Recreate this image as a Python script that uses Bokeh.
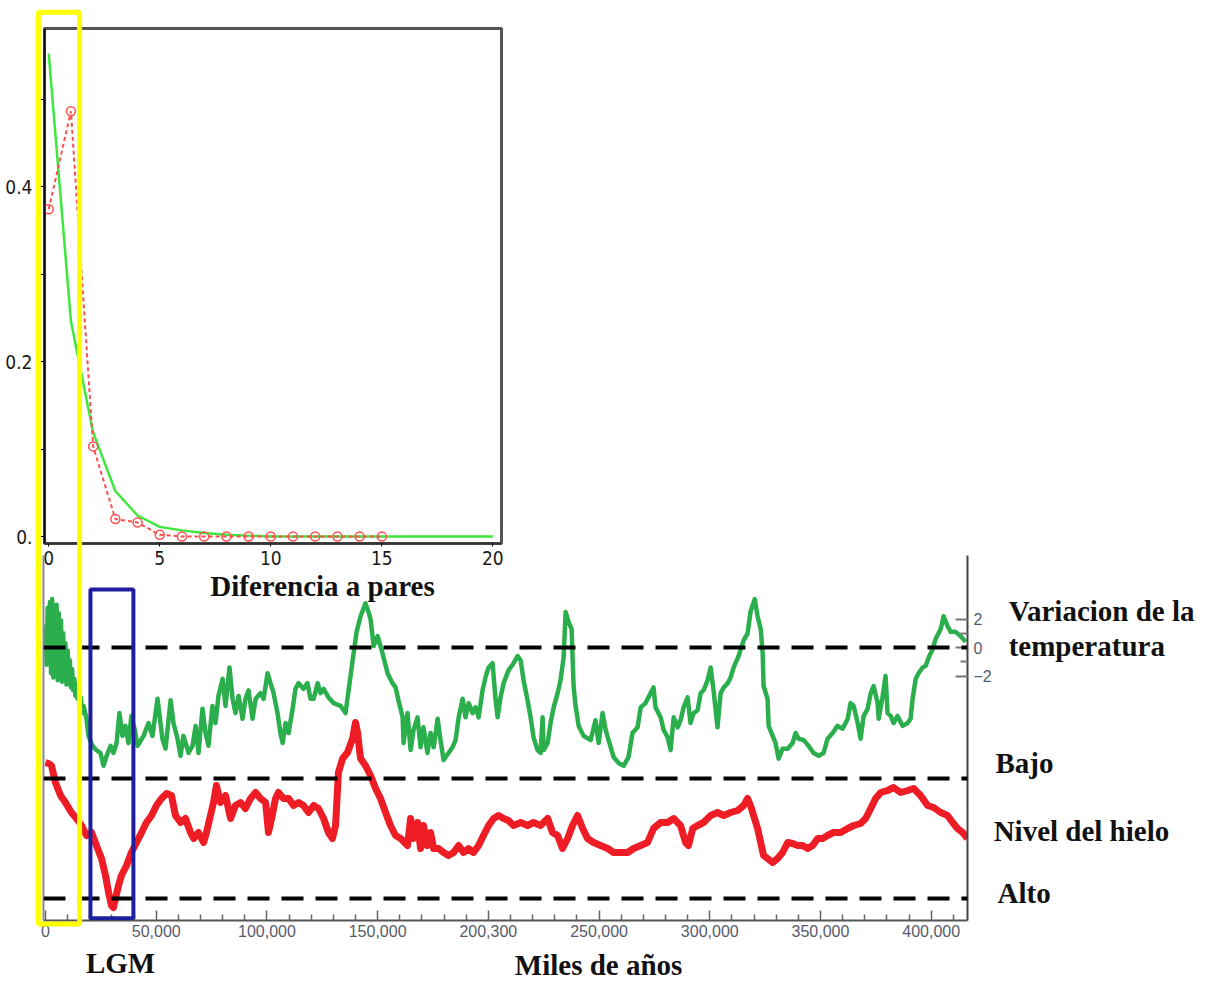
from bokeh.plotting import figure
from bokeh.models import (Range1d, LinearAxis, FixedTicker, NumeralTickFormatter,
                          Span, BoxAnnotation, Label)
from bokeh.embed import file_html
from bokeh.resources import INLINE

# ---------------------------------------------------------------------------
# Distribucion de diferencias a pares (mismatch distribution)
# ---------------------------------------------------------------------------
dif_obs_x = [0, 1, 2, 3, 4, 5, 6, 7, 8, 9, 10, 11, 12, 13, 14, 15]
dif_obs = [0.374, 0.486, 0.103, 0.020, 0.016, 0.002, 0.0, 0.0,
           0.0, 0.0, 0.0, 0.0, 0.0, 0.0, 0.0, 0.0]

dif_esp_x = [0, 1, 2, 3, 4, 5, 6, 7, 8, 9, 10,
             11, 12, 13, 14, 15, 16, 17, 18, 19, 20]
dif_esp = [0.552, 0.246, 0.119, 0.052, 0.024, 0.011, 0.007, 0.004, 0.002, 0.001, 0.0,
           0.0, 0.0, 0.0, 0.0, 0.0, 0.0, 0.0, 0.0, 0.0, 0.0]

dif_ticks = [0, 5, 10, 15, 20]
frec_ticks = [0.0, 0.2, 0.4]
frec_minor = [0.1, 0.3, 0.5]

# ---------------------------------------------------------------------------
# Variacion de la temperatura (grados) frente a anos antes del presente
# ---------------------------------------------------------------------------
temp_anos = [
    0, 500, 1000, 1500, 2000, 2500, 3000, 3500, 4000, 4500,
    5000, 5500, 6000, 6500, 7000, 7500, 8000, 8500, 9000, 9500,
    10000, 10500, 11000, 11500, 12000, 12500, 13000, 13500, 14000, 14500,
    15000, 15500, 16000, 16500,
    17200, 18500, 19400, 21200, 23000, 24800, 26200, 27600, 29400, 30700,
    32100, 33400, 34800, 36100, 37500, 38800, 40200, 41600,
    44300, 46500, 48300, 50600, 52800, 54200, 56500, 57800, 59600, 61000,
    62300, 64600, 66400, 67800, 69100, 70900, 72300, 73600, 75400, 76800,
    78100, 80000, 81300, 83100, 84500, 85800, 87200, 89000, 90300, 91700,
    93500, 94900, 97100, 98500, 100300, 101600, 103000, 104800, 106100, 107100,
    108400, 109800, 111600, 112900, 114300, 116500, 118300, 119700,
    121100, 122900, 124200, 125600, 127800, 130100, 133300, 135500, 136900, 138700,
    140500, 142300, 144500, 145900, 146800, 148200, 150000, 152200, 154500, 156700,
    158100, 159400, 161300, 161700, 163500, 164900, 166200, 168000, 169400, 170700,
    172500, 173900, 175300, 177100, 178400, 179800, 182000, 183800, 185200, 186600,
    188400, 189700, 191100, 192900, 194200, 195600, 197400, 198700, 200100, 201900,
    203300, 204200, 205500, 206900, 209100, 211400, 213200, 214600, 215900, 217700,
    219100, 220400, 222200, 223600, 224500, 225000, 226800, 228100, 229500, 231300,
    232600, 234000,
    234900, 236200, 237600, 238500, 239400, 240800, 243000,
    246200, 248400, 249800, 251600, 253000, 254300, 256600, 258800, 261100, 263300,
    265100, 267400, 268800, 271000, 273300, 274600, 275500, 277800, 279200, 281000,
    282300, 283700, 285500, 286800, 288200, 290000, 291300, 292700, 294500, 295900,
    297200, 299000, 300400, 301700, 303500, 304900, 306300, 308100, 309400, 310800,
    313000, 315300, 317100,
    318400, 320300, 321600, 323000,
    323900, 324300, 326100, 326600, 328400, 329700, 331100, 332900, 335200, 337400,
    338800, 340100, 342400, 344600, 346900, 349200, 351400, 353200, 355500, 357700,
    360000, 362300, 363600, 365000, 366800, 368100, 369500, 371300, 372700, 374000,
    375800, 376300, 378100, 379400, 380300, 381700, 383000, 384800, 387100, 389400,
    390700, 391600, 393000, 394300, 396100, 397500, 398900, 400700, 402000, 404300,
    405600, 407400, 408800, 411000, 413300, 415600,
]
temp_var = [
    1.6, -1.2, 2.8, -0.9, 3.2, -1.8, 3.4, -2.1, 2.9, -1.5,
    3.0, -2.3, 2.4, -2.0, 1.9, -2.4, 1.0, -2.2, 0.3, -2.6,
    -0.2, -2.5, -0.9, -2.8, -1.5, -3.0, -2.2, -3.4, -2.6, -3.6,
    -3.0, -4.2, -3.5, -4.6,
    -4.1, -5.0, -6.2, -6.9, -7.2, -7.4, -8.3, -7.6, -6.9, -7.4,
    -6.7, -4.6, -6.2, -5.5, -6.7, -4.8, -5.7, -6.9,
    -6.2, -5.3, -6.2, -3.6, -6.4, -7.1, -3.7, -5.3, -6.4, -7.6,
    -6.2, -7.4, -6.9, -5.5, -7.4, -4.3, -6.0, -6.9, -4.1, -5.3,
    -3.4, -2.2, -4.1, -1.4, -3.6, -4.6, -3.4, -5.0, -3.6, -3.0,
    -5.0, -3.6, -3.2, -3.6, -1.8, -2.5, -3.2, -4.6, -6.0, -6.7,
    -5.3, -6.0, -4.3, -2.9, -2.5, -2.9, -2.5, -3.6,
    -3.6, -2.5, -3.2, -2.9, -3.5, -3.9, -4.1, -4.6, -3.0, -0.9,
    1.1, 2.2, 3.1, 2.5, 2.0, 0.1, 0.8, -0.4, -1.8, -2.5,
    -2.8, -3.7, -4.9, -6.7, -4.6, -7.2, -5.8, -4.9, -7.0, -5.6,
    -7.4, -6.0, -7.0, -5.0, -6.5, -7.9, -7.4, -7.0, -6.5, -4.9,
    -3.6, -4.9, -3.9, -4.6, -4.2, -4.9, -3.0, -2.1, -1.4, -1.1,
    -3.7, -4.9, -3.5, -2.5, -1.6, -1.1, -0.6, -0.9, -2.3, -3.7,
    -4.9, -6.3, -7.2, -7.4, -4.9, -7.2, -6.7, -5.3, -4.2, -3.2,
    -2.3, -0.7,
    2.5, 1.8, 1.3, -2.7, -4.1, -5.5, -6.2,
    -6.5, -5.1, -6.7, -4.6, -5.8, -6.5, -7.7, -8.1, -8.3, -7.7,
    -6.0, -5.6, -4.2, -3.9, -3.2, -2.8, -4.2, -4.9, -5.8, -6.3,
    -7.2, -4.9, -5.6, -5.1, -4.2, -3.5, -5.3, -4.6, -4.4, -3.2,
    -3.0, -2.3, -1.4, -3.0, -5.6, -3.2, -2.8, -2.5, -2.1, -1.4,
    -0.6, 0.5, 1.0,
    2.5, 3.4, 2.2, 1.3,
    -0.4, -2.7, -3.6, -5.5, -6.2, -6.7, -7.8, -7.1, -7.1, -6.7,
    -6.0, -6.4, -6.5, -6.9, -7.4, -7.6, -7.4, -6.4, -6.0, -5.5,
    -5.7, -5.0, -3.9, -4.1, -5.3, -6.4, -4.8, -4.3, -3.2, -2.7,
    -3.9, -5.0, -3.4, -2.0, -4.6, -4.8, -5.3, -4.8, -5.5, -5.3,
    -5.0, -3.6, -2.2, -1.8, -1.4, -1.3, -0.7, -0.1, 0.6, 1.3,
    2.2, 1.5, 1.1, 1.1, 0.8, 0.4,
]

# ---------------------------------------------------------------------------
# Nivel del hielo (equivalente en metros; 0 = "Bajo", -120 = "Alto")
# ---------------------------------------------------------------------------
hielo_anos = [
    0, 1400, 2700, 4500, 6800, 9000, 11700, 14000, 16300, 18500,
    20800, 23000, 25300, 27100, 28500, 29800, 30700, 31600, 33000, 34300,
    36600, 38800, 41100, 43400, 45600, 47900, 50100, 52400, 54700, 56900,
    58700, 61000, 63200, 65500, 66900, 69100, 71400, 72700, 74500, 75900,
    77200, 79000, 81300, 83600, 85800, 88100, 90300, 92600, 94900, 97100,
    99400, 100700, 102100, 103900, 105200, 107500, 109800, 112000, 114300, 116500,
    118800, 121100, 123300, 125600, 127800, 129600, 131000, 132300, 134200, 136400,
    138700, 140000, 140900, 142300, 144500, 146800, 149100, 151300, 153600, 155800,
    158100, 160400, 163500, 164900, 166200, 168000, 169400, 170700, 172500, 173900,
    175300, 177500, 179800, 182000, 184300, 186600, 188800, 191100, 193300, 195600,
    197800, 200100, 202400, 204600, 206900, 209100, 211400, 214600, 217700, 220400,
    223600, 226800, 229000, 231300, 233500, 235800, 238000, 240300, 242600, 244800,
    247500, 250700, 253900, 256600, 259700, 262900, 265600, 268800, 271900, 274600,
    277800, 281000, 283700, 286800, 289100, 290400, 292300, 294500, 297200, 300400,
    303500, 306300, 309400, 312600, 315300, 317100, 318400, 319800, 321600, 323000,
    324300, 326100, 328400, 330600, 332900, 335200, 337400, 339700, 341900, 344200,
    346500, 348700, 351000, 353200, 355900, 359100, 362300, 365000, 368100, 370400,
    372700, 374900, 377200, 380300, 383000, 386200, 389400, 392100, 395200, 398400,
    401100, 404300, 407400, 409700, 411900, 414200, 416400,
]
hielo_nivel = [
    16, 15, 13, -4, -17, -24, -34, -40, -47, -57,
    -54, -67, -80, -97, -114, -127, -129, -120, -107, -97,
    -87, -74, -64, -54, -44, -37, -27, -20, -15, -17,
    -37, -44, -40, -54, -60, -54, -64, -54, -37, -24,
    -7, -24, -17, -40, -27, -24, -30, -20, -14, -20,
    -24, -54, -40, -20, -14, -20, -20, -27, -24, -27,
    -34, -27, -30, -40, -54, -60, -47, 6, 20, 26,
    40, 56, 46, 20, 13, 3, -10, -20, -34, -47,
    -57, -60, -67, -40, -60, -44, -70, -47, -67, -54,
    -70, -70, -74, -77, -74, -67, -74, -70, -74, -67,
    -57, -47, -40, -37, -40, -42, -47, -44, -47, -44,
    -47, -40, -54, -57, -70, -60, -47, -37, -50, -60,
    -64, -67, -70, -74, -74, -74, -70, -67, -64, -50,
    -44, -44, -40, -47, -64, -67, -50, -47, -44, -37,
    -34, -37, -34, -32, -27, -20, -27, -37, -50, -64,
    -77, -80, -84, -80, -74, -64, -65, -67, -67, -70,
    -67, -60, -60, -57, -54, -54, -50, -47, -45, -40,
    -30, -20, -14, -12, -9, -14, -12, -10, -17, -27,
    -29, -34, -37, -44, -50, -54, -60,
]
nivel_bajo = 0
nivel_alto = -120

anos_ticks = [0, 50000, 100000, 150000, 200000, 250000, 300000, 350000, 400000]
anos_minor = [10000, 20000, 30000, 40000, 60000, 70000, 80000, 90000,
              110000, 120000, 130000, 140000, 160000, 170000, 180000, 190000,
              210000, 220000, 230000, 240000, 260000, 270000, 280000, 290000,
              310000, 320000, 330000, 340000, 360000, 370000, 380000, 390000,
              410000]
temp_ticks = [-2, 0, 2]
temp_minor = [-1, 1]

# LGM window and the recent window (years before present)
lgm_inicio, lgm_fin = 20300, 39700
reciente_inicio, reciente_fin = -3200, 15400

assert len(temp_anos) == len(temp_var)
assert len(hielo_anos) == len(hielo_nivel)

SERIF = "Liberation Serif"
NARROW = "DejaVu Sans Condensed"
SANS = "Liberation Sans"
PAGE_W, PAGE_H = 1207, 981
PIN = {"position": "absolute", "left": "0px", "top": "0px"}

# ---------------------------------------------------------------------------
# Small plot: pairwise differences
# ---------------------------------------------------------------------------
IN_W, IN_H = 520, 620
IN_L, IN_R, IN_T, IN_B = 44, 19, 28, 77
in_x = (-0.19, 20.39)
in_y = (-0.008, 0.5806)

inset = figure(width=IN_W, height=IN_H,
               x_range=Range1d(*in_x), y_range=Range1d(*in_y),
               output_backend="svg", toolbar_location=None,
               min_border_left=IN_L, min_border_right=IN_R,
               min_border_top=IN_T, min_border_bottom=IN_B,
               styles=PIN)
inset.grid.visible = False
inset.outline_line_color = "#555555"
inset.outline_line_width = 3
inset.background_fill_color = "white"
inset.border_fill_color = None

inset.line(dif_esp_x, dif_esp, line_color="#3DE83D", line_width=2.5)
inset.line(dif_obs_x, dif_obs, line_color="#FF4F4F", line_width=2, line_dash="4 3")
inset.scatter(dif_obs_x, dif_obs, marker="circle", size=9, fill_color=None,
              line_color="#FF4F4F", line_width=1.5)

xa = inset.xaxis[0]
xa.ticker = FixedTicker(ticks=dif_ticks)
xa.major_label_text_font = NARROW
xa.major_label_text_font_size = "19px"
xa.major_label_text_color = "#1a1a1a"
xa.axis_line_color = "#333333"
xa.axis_line_width = 2
xa.major_tick_out = 3
xa.major_tick_in = 0
xa.minor_tick_line_color = None
xa.major_label_standoff = 4

ya = inset.yaxis[0]
ya.ticker = FixedTicker(ticks=frec_ticks, minor_ticks=frec_minor)
ya.major_label_overrides = {0: "0.", 0.2: "0.2", 0.4: "0.4"}
ya.major_label_text_font = NARROW
ya.major_label_text_font_size = "19px"
ya.major_label_text_color = "#1a1a1a"
ya.axis_line_color = "#111111"
ya.axis_line_width = 2
ya.major_tick_out = 4
ya.major_tick_in = 0
ya.minor_tick_out = 4
ya.minor_tick_in = 0
ya.major_label_standoff = 8

# ---------------------------------------------------------------------------
# Main plot: temperature and ice level through time
# ---------------------------------------------------------------------------
M_L, M_R, M_T, M_B = 43, 240, 555, 61
m_x = (-900, 416400)
m_y = (-19.16, 6.46)
m_h = (-142, 223)

main = figure(width=PAGE_W, height=PAGE_H,
              x_range=Range1d(*m_x), y_range=Range1d(*m_y),
              output_backend="svg", toolbar_location=None,
              y_axis_location="right",
              min_border_left=M_L, min_border_right=M_R,
              min_border_top=M_T, min_border_bottom=M_B,
              styles=PIN)
main.extra_y_ranges = {"hielo": Range1d(*m_h)}
main.grid.visible = False
main.outline_line_color = None
main.background_fill_color = None
main.border_fill_color = None

main.line(hielo_anos, hielo_nivel, y_range_name="hielo", line_color="#EE1C24",
          line_width=7, line_join="round")
main.line(temp_anos, temp_var, line_color="#2BAE4C", line_width=4.5, line_join="round")

for loc, rng in ((0, "default"), (nivel_bajo, "hielo"), (nivel_alto, "hielo")):
    main.add_layout(Span(location=loc, dimension="width", y_range_name=rng,
                         line_color="black", line_width=4, line_dash="22 12"))

main.add_layout(BoxAnnotation(left=lgm_inicio, right=lgm_fin, top=4.07, bottom=-19.0,
                              fill_alpha=0, line_color="#1E1E9E", line_alpha=1,
                              line_width=4))

bx = main.xaxis[0]
bx.ticker = FixedTicker(ticks=anos_ticks, minor_ticks=anos_minor)
bx.formatter = NumeralTickFormatter(format="0,0")
bx.major_label_overrides = {200000: "200,300"}
bx.major_label_text_font = SANS
bx.major_label_text_font_size = "16px"
bx.major_label_text_color = "#565a6a"
bx.axis_line_color = "#555555"
bx.axis_line_width = 2
bx.major_tick_in = 10
bx.major_tick_out = 0
bx.minor_tick_in = 6
bx.minor_tick_out = 0
bx.major_tick_line_color = "#666666"
bx.minor_tick_line_color = "#666666"
bx.major_tick_line_width = 1.5
bx.minor_tick_line_width = 1.5
bx.major_label_standoff = 4

ry = main.yaxis[0]
ry.ticker = FixedTicker(ticks=temp_ticks, minor_ticks=temp_minor)
ry.major_label_overrides = {-2: "\u22122"}
ry.major_label_text_font = SANS
ry.major_label_text_font_size = "16px"
ry.major_label_text_color = "#565a6a"
ry.axis_line_color = "#444444"
ry.axis_line_width = 2
ry.major_tick_in = 12
ry.major_tick_out = 0
ry.minor_tick_in = 7
ry.minor_tick_out = 0
ry.major_tick_line_color = "#777777"
ry.minor_tick_line_color = "#777777"
ry.major_tick_line_width = 2
ry.minor_tick_line_width = 2
ry.major_label_standoff = 6

ly = LinearAxis(ticker=FixedTicker(ticks=[]), major_label_text_font_size="0px",
                axis_line_color="#8a8a8a", axis_line_width=2,
                major_tick_line_color=None, minor_tick_line_color=None)
main.add_layout(ly, "left")

# ---------------------------------------------------------------------------
# Transparent layer over the whole page for the captions and the recent window.
# Its ranges continue the main plot's scales (and the small plot's) out to the
# page edges, so captions are placed in the data units they refer to.
# ---------------------------------------------------------------------------
def extend(rng, lo_px, hi_px, frame_px):
    per = frame_px / (rng[1] - rng[0])
    return (rng[0] - lo_px / per, rng[1] + hi_px / per)

m_frame_w = PAGE_W - M_L - M_R
m_frame_h = PAGE_H - M_T - M_B
ov_x = extend(m_x, M_L, M_R, m_frame_w)
ov_y = extend(m_y, M_B, M_T, m_frame_h)
ov_h = extend(m_h, M_B, M_T, m_frame_h)
in_frame_w = IN_W - IN_L - IN_R
in_frame_h = IN_H - IN_T - IN_B
ov_dx = extend(in_x, IN_L, PAGE_W - IN_W + IN_R, in_frame_w)
ov_dy = extend(in_y, PAGE_H - IN_H + IN_B, IN_T, in_frame_h)

ov = figure(width=PAGE_W, height=PAGE_H,
            x_range=Range1d(*ov_x), y_range=Range1d(*ov_y),
            output_backend="svg", toolbar_location=None,
            x_axis_location=None, y_axis_location=None,
            min_border=0, styles=PIN)
ov.extra_y_ranges = {"hielo": Range1d(*ov_h), "frec": Range1d(*ov_dy)}
ov.extra_x_ranges = {"dif": Range1d(*ov_dx)}
ov.grid.visible = False
ov.outline_line_color = None
ov.background_fill_color = None
ov.border_fill_color = None

ov.add_layout(BoxAnnotation(left=reciente_inicio, right=reciente_fin, top=44.6, bottom=-19.4,
                            fill_alpha=0, line_color="#FFFF00", line_alpha=1,
                            line_width=5))

def rotulo(txt, x, y, xr="default", yr="default", align="left"):
    ov.add_layout(Label(x=x, y=y, x_range_name=xr, y_range_name=yr, text=txt,
                        text_font=SERIF, text_font_style="bold",
                        text_font_size="29px", text_color="#111111",
                        text_align=align, text_baseline="middle"))

rotulo("Diferencia a pares", 12.33, -0.057, xr="dif", yr="frec", align="center")
rotulo("Variacion de la", 435000, 2.53)
rotulo("temperatura", 435000, 0.14)
rotulo("Bajo", 429000, 16, yr="hielo")
rotulo("Nivel del hielo", 428200, -52, yr="hielo")
rotulo("Alto", 430000, -114, yr="hielo")
rotulo("LGM", 33900, -22.15, align="center")
rotulo("Miles de años", 249800, -22.25, align="center")

open("out.html", "w").write(file_html([inset, main, ov], INLINE))
